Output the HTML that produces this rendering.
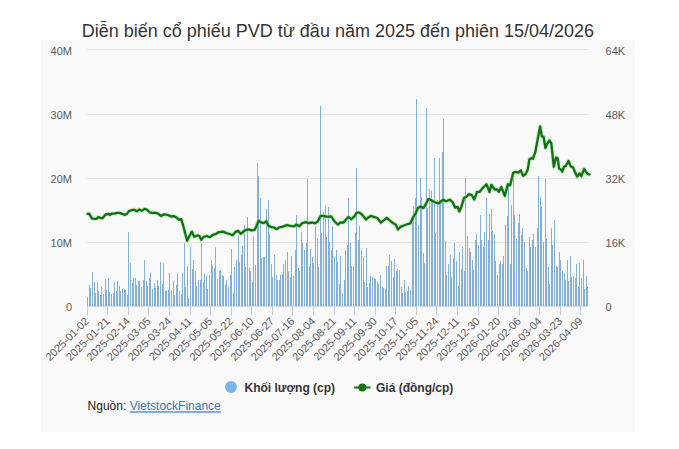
<!DOCTYPE html>
<html><head><meta charset="utf-8"><title>PVD</title>
<style>
html,body{margin:0;padding:0;background:#fff;}
body{width:679px;height:449px;overflow:hidden;position:relative;font-family:"Liberation Sans",Arial,sans-serif;}
.box{position:absolute;left:41px;top:40px;width:594px;height:392px;background:#f9f9f9;}
svg{position:absolute;left:0;top:0;}
</style></head><body>
<div class="box"></div>
<svg width="679" height="449" viewBox="0 0 679 449" font-family="Liberation Sans, Arial, sans-serif">
<text x="81.7" y="36.7" font-size="18" fill="#333333">Diễn biến cổ phiếu PVD từ đầu năm 2025 đến phiên 15/04/2026</text>
<g stroke="#e6e6e6" stroke-width="1" fill="none"><path d="M86.4 49.5H588.1"/><path d="M86.4 114.5H588.1"/><path d="M86.4 178.5H588.1"/><path d="M86.4 242.5H588.1"/></g>
<g font-size="11" fill="#5a5a5a" text-anchor="end"><text x="72" y="55.0">40M</text><text x="72" y="119.0">30M</text><text x="72" y="183.0">20M</text><text x="72" y="247.0">10M</text><text x="72" y="311.0">0</text></g>
<g font-size="11" fill="#5a5a5a" text-anchor="start"><text x="605.6" y="55.0">64K</text><text x="605.6" y="119.0">48K</text><text x="605.6" y="183.0">32K</text><text x="605.6" y="247.0">16K</text><text x="605.6" y="311.0">0</text></g>
<g fill="#82b0d8" shape-rendering="crispEdges"><rect x="87.19" y="297.2" width="1.0" height="8.8"/><rect x="88.77" y="285.1" width="1.0" height="20.9"/><rect x="90.36" y="287.5" width="1.0" height="18.5"/><rect x="91.94" y="272.2" width="1.0" height="33.8"/><rect x="93.52" y="282.0" width="1.0" height="24.0"/><rect x="95.10" y="292.9" width="1.0" height="13.1"/><rect x="96.69" y="282.0" width="1.0" height="24.0"/><rect x="98.27" y="291.1" width="1.0" height="14.9"/><rect x="99.85" y="295.0" width="1.0" height="11.0"/><rect x="101.43" y="286.2" width="1.0" height="19.8"/><rect x="103.02" y="293.9" width="1.0" height="12.1"/><rect x="104.60" y="279.1" width="1.0" height="26.9"/><rect x="106.18" y="290.0" width="1.0" height="16.0"/><rect x="107.76" y="278.2" width="1.0" height="27.8"/><rect x="109.35" y="292.0" width="1.0" height="14.0"/><rect x="110.93" y="294.2" width="1.0" height="11.8"/><rect x="112.51" y="293.3" width="1.0" height="12.7"/><rect x="114.09" y="282.0" width="1.0" height="24.0"/><rect x="115.68" y="291.1" width="1.0" height="14.9"/><rect x="117.26" y="281.0" width="1.0" height="25.0"/><rect x="118.84" y="286.2" width="1.0" height="19.8"/><rect x="120.42" y="291.3" width="1.0" height="14.7"/><rect x="122.01" y="289.0" width="1.0" height="17.0"/><rect x="123.59" y="289.0" width="1.0" height="17.0"/><rect x="125.17" y="290.0" width="1.0" height="16.0"/><rect x="126.75" y="295.0" width="1.0" height="11.0"/><rect x="128.34" y="232.0" width="1.0" height="74.0"/><rect x="129.92" y="262.9" width="1.0" height="43.1"/><rect x="131.50" y="282.9" width="1.0" height="23.1"/><rect x="133.08" y="278.2" width="1.0" height="27.8"/><rect x="134.67" y="278.2" width="1.0" height="27.8"/><rect x="136.25" y="284.9" width="1.0" height="21.1"/><rect x="137.83" y="281.0" width="1.0" height="25.0"/><rect x="139.41" y="281.0" width="1.0" height="25.0"/><rect x="141.00" y="287.2" width="1.0" height="18.8"/><rect x="142.58" y="280.4" width="1.0" height="25.6"/><rect x="144.16" y="260.1" width="1.0" height="45.9"/><rect x="145.74" y="281.0" width="1.0" height="25.0"/><rect x="147.33" y="286.2" width="1.0" height="19.8"/><rect x="148.91" y="278.2" width="1.0" height="27.8"/><rect x="150.49" y="273.0" width="1.0" height="33.0"/><rect x="152.07" y="288.8" width="1.0" height="17.2"/><rect x="153.66" y="283.3" width="1.0" height="22.7"/><rect x="155.24" y="287.5" width="1.0" height="18.5"/><rect x="156.82" y="280.0" width="1.0" height="26.0"/><rect x="158.40" y="286.2" width="1.0" height="19.8"/><rect x="159.99" y="261.9" width="1.0" height="44.1"/><rect x="161.57" y="283.9" width="1.0" height="22.1"/><rect x="163.15" y="262.9" width="1.0" height="43.1"/><rect x="164.73" y="290.7" width="1.0" height="15.3"/><rect x="166.32" y="290.0" width="1.0" height="16.0"/><rect x="167.90" y="290.0" width="1.0" height="16.0"/><rect x="169.48" y="273.0" width="1.0" height="33.0"/><rect x="171.06" y="290.0" width="1.0" height="16.0"/><rect x="172.65" y="281.0" width="1.0" height="25.0"/><rect x="174.23" y="295.0" width="1.0" height="11.0"/><rect x="175.81" y="284.9" width="1.0" height="21.1"/><rect x="177.39" y="273.9" width="1.0" height="32.1"/><rect x="178.98" y="291.1" width="1.0" height="14.9"/><rect x="180.56" y="293.9" width="1.0" height="12.1"/><rect x="182.14" y="273.0" width="1.0" height="33.0"/><rect x="183.72" y="243.2" width="1.0" height="62.8"/><rect x="185.31" y="286.8" width="1.0" height="19.2"/><rect x="186.89" y="266.1" width="1.0" height="39.9"/><rect x="188.47" y="298.1" width="1.0" height="7.9"/><rect x="190.05" y="247.0" width="1.0" height="59.0"/><rect x="191.64" y="269.1" width="1.0" height="36.9"/><rect x="193.22" y="260.1" width="1.0" height="45.9"/><rect x="194.80" y="270.9" width="1.0" height="35.1"/><rect x="196.38" y="286.2" width="1.0" height="19.8"/><rect x="197.97" y="280.0" width="1.0" height="26.0"/><rect x="199.55" y="280.0" width="1.0" height="26.0"/><rect x="201.13" y="243.2" width="1.0" height="62.8"/><rect x="202.71" y="282.0" width="1.0" height="24.0"/><rect x="204.30" y="273.9" width="1.0" height="32.1"/><rect x="205.88" y="275.8" width="1.0" height="30.2"/><rect x="207.46" y="288.8" width="1.0" height="17.2"/><rect x="209.04" y="275.2" width="1.0" height="30.8"/><rect x="210.63" y="260.1" width="1.0" height="45.9"/><rect x="212.21" y="266.1" width="1.0" height="39.9"/><rect x="213.79" y="268.1" width="1.0" height="37.9"/><rect x="215.37" y="246.8" width="1.0" height="59.2"/><rect x="216.96" y="279.1" width="1.0" height="26.9"/><rect x="218.54" y="271.3" width="1.0" height="34.7"/><rect x="220.12" y="270.0" width="1.0" height="36.0"/><rect x="221.70" y="275.2" width="1.0" height="30.8"/><rect x="223.29" y="275.8" width="1.0" height="30.2"/><rect x="224.87" y="284.9" width="1.0" height="21.1"/><rect x="226.45" y="280.0" width="1.0" height="26.0"/><rect x="228.03" y="286.8" width="1.0" height="19.2"/><rect x="229.62" y="275.2" width="1.0" height="30.8"/><rect x="231.20" y="249.3" width="1.0" height="56.7"/><rect x="232.78" y="293.3" width="1.0" height="12.7"/><rect x="234.36" y="266.8" width="1.0" height="39.2"/><rect x="235.95" y="260.1" width="1.0" height="45.9"/><rect x="237.53" y="235.3" width="1.0" height="70.7"/><rect x="239.11" y="262.3" width="1.0" height="43.7"/><rect x="240.69" y="254.5" width="1.0" height="51.5"/><rect x="242.28" y="246.0" width="1.0" height="60.0"/><rect x="243.86" y="225.2" width="1.0" height="80.8"/><rect x="245.44" y="266.8" width="1.0" height="39.2"/><rect x="247.02" y="217.4" width="1.0" height="88.6"/><rect x="248.61" y="268.1" width="1.0" height="37.9"/><rect x="250.19" y="270.7" width="1.0" height="35.3"/><rect x="251.77" y="281.7" width="1.0" height="24.3"/><rect x="253.35" y="236.3" width="1.0" height="69.7"/><rect x="254.94" y="265.0" width="1.0" height="41.0"/><rect x="256.52" y="162.8" width="1.0" height="143.2"/><rect x="258.10" y="176.2" width="1.0" height="129.8"/><rect x="259.68" y="198.4" width="1.0" height="107.6"/><rect x="261.27" y="257.8" width="1.0" height="48.2"/><rect x="262.85" y="257.1" width="1.0" height="48.9"/><rect x="264.43" y="257.1" width="1.0" height="48.9"/><rect x="266.01" y="208.5" width="1.0" height="97.5"/><rect x="267.60" y="199.5" width="1.0" height="106.5"/><rect x="269.18" y="234.0" width="1.0" height="72.0"/><rect x="270.76" y="264.0" width="1.0" height="42.0"/><rect x="272.34" y="277.1" width="1.0" height="28.9"/><rect x="273.93" y="254.9" width="1.0" height="51.1"/><rect x="275.51" y="275.2" width="1.0" height="30.8"/><rect x="277.09" y="279.7" width="1.0" height="26.3"/><rect x="278.67" y="280.4" width="1.0" height="25.6"/><rect x="280.26" y="275.2" width="1.0" height="30.8"/><rect x="281.84" y="273.9" width="1.0" height="32.1"/><rect x="283.42" y="264.2" width="1.0" height="41.8"/><rect x="285.00" y="260.1" width="1.0" height="45.9"/><rect x="286.59" y="252.0" width="1.0" height="54.0"/><rect x="288.17" y="271.3" width="1.0" height="34.7"/><rect x="289.75" y="277.1" width="1.0" height="28.9"/><rect x="291.33" y="255.8" width="1.0" height="50.2"/><rect x="292.92" y="275.8" width="1.0" height="30.2"/><rect x="294.50" y="249.9" width="1.0" height="56.1"/><rect x="296.08" y="215.1" width="1.0" height="90.9"/><rect x="297.66" y="268.1" width="1.0" height="37.9"/><rect x="299.25" y="270.9" width="1.0" height="35.1"/><rect x="300.83" y="232.0" width="1.0" height="74.0"/><rect x="302.41" y="242.7" width="1.0" height="63.3"/><rect x="303.99" y="250.0" width="1.0" height="56.0"/><rect x="305.58" y="242.7" width="1.0" height="63.3"/><rect x="307.16" y="178.6" width="1.0" height="127.4"/><rect x="308.74" y="265.5" width="1.0" height="40.5"/><rect x="310.32" y="249.0" width="1.0" height="57.0"/><rect x="311.91" y="257.1" width="1.0" height="48.9"/><rect x="313.49" y="262.9" width="1.0" height="43.1"/><rect x="315.07" y="225.8" width="1.0" height="80.2"/><rect x="316.65" y="237.7" width="1.0" height="68.3"/><rect x="318.24" y="266.8" width="1.0" height="39.2"/><rect x="319.82" y="105.9" width="1.0" height="200.1"/><rect x="321.40" y="232.6" width="1.0" height="73.4"/><rect x="322.98" y="211.6" width="1.0" height="94.4"/><rect x="324.57" y="205.0" width="1.0" height="101.0"/><rect x="326.15" y="237.1" width="1.0" height="68.9"/><rect x="327.73" y="207.3" width="1.0" height="98.7"/><rect x="329.31" y="241.5" width="1.0" height="64.5"/><rect x="330.90" y="249.5" width="1.0" height="56.5"/><rect x="332.48" y="226.4" width="1.0" height="79.6"/><rect x="334.06" y="257.1" width="1.0" height="48.9"/><rect x="335.64" y="250.0" width="1.0" height="56.0"/><rect x="337.23" y="262.0" width="1.0" height="44.0"/><rect x="338.81" y="283.6" width="1.0" height="22.4"/><rect x="340.39" y="255.8" width="1.0" height="50.2"/><rect x="341.97" y="293.3" width="1.0" height="12.7"/><rect x="343.56" y="280.4" width="1.0" height="25.6"/><rect x="345.14" y="250.0" width="1.0" height="56.0"/><rect x="346.72" y="245.0" width="1.0" height="61.0"/><rect x="348.30" y="198.4" width="1.0" height="107.6"/><rect x="349.89" y="243.0" width="1.0" height="63.0"/><rect x="351.47" y="265.5" width="1.0" height="40.5"/><rect x="353.05" y="265.5" width="1.0" height="40.5"/><rect x="354.63" y="232.6" width="1.0" height="73.4"/><rect x="356.22" y="167.6" width="1.0" height="138.4"/><rect x="357.80" y="240.0" width="1.0" height="66.0"/><rect x="359.38" y="226.4" width="1.0" height="79.6"/><rect x="360.96" y="250.4" width="1.0" height="55.6"/><rect x="362.55" y="257.1" width="1.0" height="48.9"/><rect x="364.13" y="282.0" width="1.0" height="24.0"/><rect x="365.71" y="248.0" width="1.0" height="58.0"/><rect x="367.29" y="286.8" width="1.0" height="19.2"/><rect x="368.88" y="283.3" width="1.0" height="22.7"/><rect x="370.46" y="276.1" width="1.0" height="29.9"/><rect x="372.04" y="276.5" width="1.0" height="29.5"/><rect x="373.62" y="278.2" width="1.0" height="27.8"/><rect x="375.21" y="279.1" width="1.0" height="26.9"/><rect x="376.79" y="282.3" width="1.0" height="23.7"/><rect x="378.37" y="284.2" width="1.0" height="21.8"/><rect x="379.95" y="275.2" width="1.0" height="30.8"/><rect x="381.54" y="287.2" width="1.0" height="18.8"/><rect x="383.12" y="288.1" width="1.0" height="17.9"/><rect x="384.70" y="289.4" width="1.0" height="16.6"/><rect x="386.28" y="266.1" width="1.0" height="39.9"/><rect x="387.87" y="266.1" width="1.0" height="39.9"/><rect x="389.45" y="254.5" width="1.0" height="51.5"/><rect x="391.03" y="261.0" width="1.0" height="45.0"/><rect x="392.61" y="277.1" width="1.0" height="28.9"/><rect x="394.20" y="259.3" width="1.0" height="46.7"/><rect x="395.78" y="271.3" width="1.0" height="34.7"/><rect x="397.36" y="269.4" width="1.0" height="36.6"/><rect x="398.94" y="270.0" width="1.0" height="36.0"/><rect x="400.53" y="286.8" width="1.0" height="19.2"/><rect x="402.11" y="292.6" width="1.0" height="13.4"/><rect x="403.69" y="280.0" width="1.0" height="26.0"/><rect x="405.27" y="292.0" width="1.0" height="14.0"/><rect x="406.86" y="291.1" width="1.0" height="14.9"/><rect x="408.44" y="286.2" width="1.0" height="19.8"/><rect x="410.02" y="290.0" width="1.0" height="16.0"/><rect x="411.60" y="218.4" width="1.0" height="87.6"/><rect x="413.19" y="205.6" width="1.0" height="100.4"/><rect x="414.77" y="198.3" width="1.0" height="107.7"/><rect x="416.35" y="98.8" width="1.0" height="207.2"/><rect x="417.93" y="224.7" width="1.0" height="81.3"/><rect x="419.52" y="178.2" width="1.0" height="127.8"/><rect x="421.10" y="197.4" width="1.0" height="108.6"/><rect x="422.68" y="252.8" width="1.0" height="53.2"/><rect x="424.26" y="262.9" width="1.0" height="43.1"/><rect x="425.85" y="107.9" width="1.0" height="198.1"/><rect x="427.43" y="208.3" width="1.0" height="97.7"/><rect x="429.01" y="189.2" width="1.0" height="116.8"/><rect x="430.59" y="191.0" width="1.0" height="115.0"/><rect x="432.18" y="200.0" width="1.0" height="106.0"/><rect x="433.76" y="157.9" width="1.0" height="148.1"/><rect x="435.34" y="233.0" width="1.0" height="73.0"/><rect x="436.92" y="200.0" width="1.0" height="106.0"/><rect x="438.51" y="157.9" width="1.0" height="148.1"/><rect x="440.09" y="200.0" width="1.0" height="106.0"/><rect x="441.67" y="151.7" width="1.0" height="154.3"/><rect x="443.25" y="118.7" width="1.0" height="187.3"/><rect x="444.84" y="241.2" width="1.0" height="64.8"/><rect x="446.42" y="275.2" width="1.0" height="30.8"/><rect x="448.00" y="264.0" width="1.0" height="42.0"/><rect x="449.58" y="254.5" width="1.0" height="51.5"/><rect x="451.17" y="277.1" width="1.0" height="28.9"/><rect x="452.75" y="257.8" width="1.0" height="48.2"/><rect x="454.33" y="243.0" width="1.0" height="63.0"/><rect x="455.91" y="261.4" width="1.0" height="44.6"/><rect x="457.50" y="285.5" width="1.0" height="20.5"/><rect x="459.08" y="251.9" width="1.0" height="54.1"/><rect x="460.66" y="269.4" width="1.0" height="36.6"/><rect x="462.24" y="246.6" width="1.0" height="59.4"/><rect x="463.83" y="270.7" width="1.0" height="35.3"/><rect x="465.41" y="177.7" width="1.0" height="128.3"/><rect x="466.99" y="235.7" width="1.0" height="70.3"/><rect x="468.57" y="247.6" width="1.0" height="58.4"/><rect x="470.16" y="251.9" width="1.0" height="54.1"/><rect x="471.74" y="260.1" width="1.0" height="45.9"/><rect x="473.32" y="270.0" width="1.0" height="36.0"/><rect x="474.90" y="240.3" width="1.0" height="65.7"/><rect x="476.49" y="233.9" width="1.0" height="72.1"/><rect x="478.07" y="245.0" width="1.0" height="61.0"/><rect x="479.65" y="214.7" width="1.0" height="91.3"/><rect x="481.23" y="240.0" width="1.0" height="66.0"/><rect x="482.82" y="246.6" width="1.0" height="59.4"/><rect x="484.40" y="232.0" width="1.0" height="74.0"/><rect x="485.98" y="198.3" width="1.0" height="107.7"/><rect x="487.56" y="240.0" width="1.0" height="66.0"/><rect x="489.15" y="213.8" width="1.0" height="92.2"/><rect x="490.73" y="209.2" width="1.0" height="96.8"/><rect x="492.31" y="231.1" width="1.0" height="74.9"/><rect x="493.89" y="233.9" width="1.0" height="72.1"/><rect x="495.48" y="261.4" width="1.0" height="44.6"/><rect x="497.06" y="275.2" width="1.0" height="30.8"/><rect x="498.64" y="264.0" width="1.0" height="42.0"/><rect x="500.22" y="261.4" width="1.0" height="44.6"/><rect x="501.81" y="264.2" width="1.0" height="41.8"/><rect x="503.39" y="256.2" width="1.0" height="49.8"/><rect x="504.97" y="224.7" width="1.0" height="81.3"/><rect x="506.55" y="215.6" width="1.0" height="90.4"/><rect x="508.14" y="184.0" width="1.0" height="122.0"/><rect x="509.72" y="264.0" width="1.0" height="42.0"/><rect x="511.30" y="204.7" width="1.0" height="101.3"/><rect x="512.88" y="170.8" width="1.0" height="135.2"/><rect x="514.47" y="214.7" width="1.0" height="91.3"/><rect x="516.05" y="239.0" width="1.0" height="67.0"/><rect x="517.63" y="222.6" width="1.0" height="83.4"/><rect x="519.21" y="213.8" width="1.0" height="92.2"/><rect x="520.80" y="235.0" width="1.0" height="71.0"/><rect x="522.38" y="228.0" width="1.0" height="78.0"/><rect x="523.96" y="242.1" width="1.0" height="63.9"/><rect x="525.54" y="268.1" width="1.0" height="37.9"/><rect x="527.13" y="270.7" width="1.0" height="35.3"/><rect x="528.71" y="237.2" width="1.0" height="68.8"/><rect x="530.29" y="246.6" width="1.0" height="59.4"/><rect x="531.87" y="240.0" width="1.0" height="66.0"/><rect x="533.46" y="233.9" width="1.0" height="72.1"/><rect x="535.04" y="246.6" width="1.0" height="59.4"/><rect x="536.62" y="228.4" width="1.0" height="77.6"/><rect x="538.20" y="176.4" width="1.0" height="129.6"/><rect x="539.79" y="196.5" width="1.0" height="109.5"/><rect x="541.37" y="206.5" width="1.0" height="99.5"/><rect x="542.95" y="242.1" width="1.0" height="63.9"/><rect x="544.53" y="179.1" width="1.0" height="126.9"/><rect x="546.12" y="239.0" width="1.0" height="67.0"/><rect x="547.70" y="266.8" width="1.0" height="39.2"/><rect x="549.28" y="283.9" width="1.0" height="22.1"/><rect x="550.86" y="228.0" width="1.0" height="78.0"/><rect x="552.45" y="244.5" width="1.0" height="61.5"/><rect x="554.03" y="219.7" width="1.0" height="86.3"/><rect x="555.61" y="266.1" width="1.0" height="39.9"/><rect x="557.19" y="267.0" width="1.0" height="39.0"/><rect x="558.78" y="252.4" width="1.0" height="53.6"/><rect x="560.36" y="260.2" width="1.0" height="45.8"/><rect x="561.94" y="271.0" width="1.0" height="35.0"/><rect x="563.52" y="272.5" width="1.0" height="33.5"/><rect x="565.11" y="279.8" width="1.0" height="26.2"/><rect x="566.69" y="260.2" width="1.0" height="45.8"/><rect x="568.27" y="280.8" width="1.0" height="25.2"/><rect x="569.85" y="256.3" width="1.0" height="49.7"/><rect x="571.44" y="276.9" width="1.0" height="29.1"/><rect x="573.02" y="275.9" width="1.0" height="30.1"/><rect x="574.60" y="277.8" width="1.0" height="28.2"/><rect x="576.18" y="264.1" width="1.0" height="41.9"/><rect x="577.77" y="286.7" width="1.0" height="19.3"/><rect x="579.35" y="262.7" width="1.0" height="43.3"/><rect x="580.93" y="277.8" width="1.0" height="28.2"/><rect x="582.51" y="260.2" width="1.0" height="45.8"/><rect x="584.10" y="288.6" width="1.0" height="17.4"/><rect x="585.68" y="275.9" width="1.0" height="30.1"/><rect x="587.26" y="286.7" width="1.0" height="19.3"/></g>
<path d="M86.4 306.5H588.1" stroke="#ccd6eb" stroke-width="1"/>
<g stroke="#c4c8d0" stroke-width="1"><path d="M87.5 306.5V315.2"/><path d="M107.5 306.5V315.2"/><path d="M128.5 306.5V315.2"/><path d="M148.5 306.5V315.2"/><path d="M169.5 306.5V315.2"/><path d="M190.5 306.5V315.2"/><path d="M210.5 306.5V315.2"/><path d="M231.5 306.5V315.2"/><path d="M251.5 306.5V315.2"/><path d="M272.5 306.5V315.2"/><path d="M292.5 306.5V315.2"/><path d="M313.5 306.5V315.2"/><path d="M334.5 306.5V315.2"/><path d="M354.5 306.5V315.2"/><path d="M375.5 306.5V315.2"/><path d="M395.5 306.5V315.2"/><path d="M416.5 306.5V315.2"/><path d="M436.5 306.5V315.2"/><path d="M457.5 306.5V315.2"/><path d="M478.5 306.5V315.2"/><path d="M498.5 306.5V315.2"/><path d="M519.5 306.5V315.2"/><path d="M539.5 306.5V315.2"/><path d="M560.5 306.5V315.2"/><path d="M580.5 306.5V315.2"/></g>
<polyline points="87.6,213.9 89.1,213.6 92.1,218.6 96.2,218.8 98.6,217.0 100.9,218.2 102.7,218.0 105.6,214.5 108.6,213.9 109.8,215.0 112.1,213.6 114.5,213.6 116.9,212.9 119.8,212.9 122.8,214.1 124.5,214.8 126.9,213.9 129.2,210.9 132.2,210.1 134.0,209.7 136.9,211.3 139.3,209.4 141.6,210.9 144.6,208.9 146.9,209.7 149.9,212.5 152.3,212.9 155.8,212.9 158.2,213.6 161.1,216.0 163.5,214.5 167.1,214.7 169.4,215.6 171.2,216.5 174.2,216.2 176.5,217.5 178.9,219.8 181.2,219.1 183.6,227.1 187.1,240.7 189.5,236.0 191.9,231.6 194.2,236.8 197.8,235.4 199.5,236.0 201.3,239.9 203.7,236.8 206.6,236.0 209.6,237.2 213.1,234.8 216.6,233.6 219.0,232.1 223.1,231.6 226.1,233.0 229.6,234.0 232.6,235.2 235.5,231.9 237.9,230.9 240.9,233.9 243.3,231.6 246.2,229.8 249.2,229.5 251.5,230.4 254.5,229.8 256.2,226.9 258.6,220.7 261.0,222.4 263.9,223.1 266.3,221.2 268.6,225.9 271.6,227.1 273.9,227.4 276.9,229.2 279.2,227.4 282.2,226.9 286.9,225.1 290.5,225.9 294.0,226.3 296.4,224.5 299.3,226.3 302.3,223.1 305.8,222.1 308.2,223.1 312.4,222.5 315.0,223.3 317.7,221.6 320.6,215.9 323.0,215.9 325.9,216.6 328.9,216.6 331.2,216.3 334.2,221.0 337.7,224.5 340.7,222.5 343.6,222.5 345.4,220.2 348.3,216.9 351.3,219.2 354.2,216.6 356.6,212.7 359.6,212.7 362.5,215.1 366.0,219.5 369.0,216.9 370.8,215.9 373.7,216.9 377.3,218.0 380.8,222.5 383.7,220.4 386.8,217.8 389.7,220.4 393.3,223.3 395.6,224.5 398.0,229.6 400.3,226.9 403.3,225.7 406.2,224.5 410.4,223.3 412.7,218.0 415.7,213.3 418.0,208.0 420.4,206.5 423.3,208.0 425.7,204.5 428.1,199.2 430.4,199.7 432.8,201.3 435.7,202.5 438.7,203.3 441.0,201.3 443.4,199.7 445.8,201.3 449.9,199.7 452.8,202.5 455.2,207.7 457.6,206.8 459.3,211.5 461.2,207.2 464.1,197.8 466.5,196.8 468.8,194.2 471.8,195.2 474.2,199.5 477.1,191.9 479.5,191.9 483.0,187.7 486.5,184.2 489.5,192.1 491.3,184.8 494.8,189.5 497.2,189.5 498.9,191.9 501.3,186.9 504.8,196.0 507.8,184.2 510.1,185.4 513.1,173.0 515.5,171.8 518.4,172.7 520.8,170.4 523.1,175.9 525.5,174.2 527.8,169.4 529.4,159.3 531.8,158.1 533.0,158.7 535.3,152.2 537.7,139.2 540.1,126.3 541.8,136.3 543.6,136.9 545.4,148.1 547.1,144.0 549.5,140.4 551.3,143.4 553.8,166.8 556.0,157.5 557.8,158.8 559.1,168.6 560.5,169.0 562.3,171.7 564.0,166.8 565.8,165.9 568.5,161.0 570.7,166.4 573.0,167.3 575.2,172.6 577.4,176.6 579.6,173.5 581.4,176.2 584.1,169.0 585.9,171.7 587.6,173.9 589.4,174.4" fill="none" stroke="#9fd89f" stroke-opacity="0.45" stroke-width="4.2" stroke-linejoin="round" stroke-linecap="round"/>
<polyline points="87.6,213.9 89.1,213.6 92.1,218.6 96.2,218.8 98.6,217.0 100.9,218.2 102.7,218.0 105.6,214.5 108.6,213.9 109.8,215.0 112.1,213.6 114.5,213.6 116.9,212.9 119.8,212.9 122.8,214.1 124.5,214.8 126.9,213.9 129.2,210.9 132.2,210.1 134.0,209.7 136.9,211.3 139.3,209.4 141.6,210.9 144.6,208.9 146.9,209.7 149.9,212.5 152.3,212.9 155.8,212.9 158.2,213.6 161.1,216.0 163.5,214.5 167.1,214.7 169.4,215.6 171.2,216.5 174.2,216.2 176.5,217.5 178.9,219.8 181.2,219.1 183.6,227.1 187.1,240.7 189.5,236.0 191.9,231.6 194.2,236.8 197.8,235.4 199.5,236.0 201.3,239.9 203.7,236.8 206.6,236.0 209.6,237.2 213.1,234.8 216.6,233.6 219.0,232.1 223.1,231.6 226.1,233.0 229.6,234.0 232.6,235.2 235.5,231.9 237.9,230.9 240.9,233.9 243.3,231.6 246.2,229.8 249.2,229.5 251.5,230.4 254.5,229.8 256.2,226.9 258.6,220.7 261.0,222.4 263.9,223.1 266.3,221.2 268.6,225.9 271.6,227.1 273.9,227.4 276.9,229.2 279.2,227.4 282.2,226.9 286.9,225.1 290.5,225.9 294.0,226.3 296.4,224.5 299.3,226.3 302.3,223.1 305.8,222.1 308.2,223.1 312.4,222.5 315.0,223.3 317.7,221.6 320.6,215.9 323.0,215.9 325.9,216.6 328.9,216.6 331.2,216.3 334.2,221.0 337.7,224.5 340.7,222.5 343.6,222.5 345.4,220.2 348.3,216.9 351.3,219.2 354.2,216.6 356.6,212.7 359.6,212.7 362.5,215.1 366.0,219.5 369.0,216.9 370.8,215.9 373.7,216.9 377.3,218.0 380.8,222.5 383.7,220.4 386.8,217.8 389.7,220.4 393.3,223.3 395.6,224.5 398.0,229.6 400.3,226.9 403.3,225.7 406.2,224.5 410.4,223.3 412.7,218.0 415.7,213.3 418.0,208.0 420.4,206.5 423.3,208.0 425.7,204.5 428.1,199.2 430.4,199.7 432.8,201.3 435.7,202.5 438.7,203.3 441.0,201.3 443.4,199.7 445.8,201.3 449.9,199.7 452.8,202.5 455.2,207.7 457.6,206.8 459.3,211.5 461.2,207.2 464.1,197.8 466.5,196.8 468.8,194.2 471.8,195.2 474.2,199.5 477.1,191.9 479.5,191.9 483.0,187.7 486.5,184.2 489.5,192.1 491.3,184.8 494.8,189.5 497.2,189.5 498.9,191.9 501.3,186.9 504.8,196.0 507.8,184.2 510.1,185.4 513.1,173.0 515.5,171.8 518.4,172.7 520.8,170.4 523.1,175.9 525.5,174.2 527.8,169.4 529.4,159.3 531.8,158.1 533.0,158.7 535.3,152.2 537.7,139.2 540.1,126.3 541.8,136.3 543.6,136.9 545.4,148.1 547.1,144.0 549.5,140.4 551.3,143.4 553.8,166.8 556.0,157.5 557.8,158.8 559.1,168.6 560.5,169.0 562.3,171.7 564.0,166.8 565.8,165.9 568.5,161.0 570.7,166.4 573.0,167.3 575.2,172.6 577.4,176.6 579.6,173.5 581.4,176.2 584.1,169.0 585.9,171.7 587.6,173.9 589.4,174.4" fill="none" stroke="#0f730f" stroke-width="2.3" stroke-linejoin="round" stroke-linecap="round"/>
<g font-size="11" fill="#5a5a5a" text-anchor="end"><text x="89.7" y="321.8" transform="rotate(-45 89.7 321.8)">2025-01-02</text><text x="110.3" y="321.8" transform="rotate(-45 110.3 321.8)">2025-01-21</text><text x="130.8" y="321.8" transform="rotate(-45 130.8 321.8)">2025-02-14</text><text x="151.4" y="321.8" transform="rotate(-45 151.4 321.8)">2025-03-05</text><text x="172.0" y="321.8" transform="rotate(-45 172.0 321.8)">2025-03-24</text><text x="192.6" y="321.8" transform="rotate(-45 192.6 321.8)">2025-04-11</text><text x="213.1" y="321.8" transform="rotate(-45 213.1 321.8)">2025-05-05</text><text x="233.7" y="321.8" transform="rotate(-45 233.7 321.8)">2025-05-22</text><text x="254.3" y="321.8" transform="rotate(-45 254.3 321.8)">2025-06-10</text><text x="274.8" y="321.8" transform="rotate(-45 274.8 321.8)">2025-06-27</text><text x="295.4" y="321.8" transform="rotate(-45 295.4 321.8)">2025-07-16</text><text x="316.0" y="321.8" transform="rotate(-45 316.0 321.8)">2025-08-04</text><text x="336.6" y="321.8" transform="rotate(-45 336.6 321.8)">2025-08-21</text><text x="357.1" y="321.8" transform="rotate(-45 357.1 321.8)">2025-09-11</text><text x="377.7" y="321.8" transform="rotate(-45 377.7 321.8)">2025-09-30</text><text x="398.3" y="321.8" transform="rotate(-45 398.3 321.8)">2025-10-17</text><text x="418.9" y="321.8" transform="rotate(-45 418.9 321.8)">2025-11-05</text><text x="439.4" y="321.8" transform="rotate(-45 439.4 321.8)">2025-11-24</text><text x="460.0" y="321.8" transform="rotate(-45 460.0 321.8)">2025-12-11</text><text x="480.6" y="321.8" transform="rotate(-45 480.6 321.8)">2025-12-30</text><text x="501.1" y="321.8" transform="rotate(-45 501.1 321.8)">2026-01-20</text><text x="521.7" y="321.8" transform="rotate(-45 521.7 321.8)">2026-02-06</text><text x="542.3" y="321.8" transform="rotate(-45 542.3 321.8)">2026-03-04</text><text x="562.9" y="321.8" transform="rotate(-45 562.9 321.8)">2026-03-23</text><text x="583.4" y="321.8" transform="rotate(-45 583.4 321.8)">2026-04-09</text></g>
<circle cx="231" cy="387" r="6" fill="#7cb5ec"/>
<text x="244.5" y="391.5" font-size="12" font-weight="bold" fill="#333333">Khối lượng (cp)</text>
<path d="M354 387.5H370.5" stroke="#0f730f" stroke-width="2"/>
<circle cx="362.3" cy="387.5" r="4" fill="#0f730f"/>
<text x="376" y="391.5" font-size="12" font-weight="bold" fill="#333333">Giá (đồng/cp)</text>
<text x="87.6" y="410.4" font-size="12" fill="#222222">Nguồn: <tspan fill="#3a78b8" text-decoration="underline">VietstockFinance</tspan></text>
</svg>
</body></html>
